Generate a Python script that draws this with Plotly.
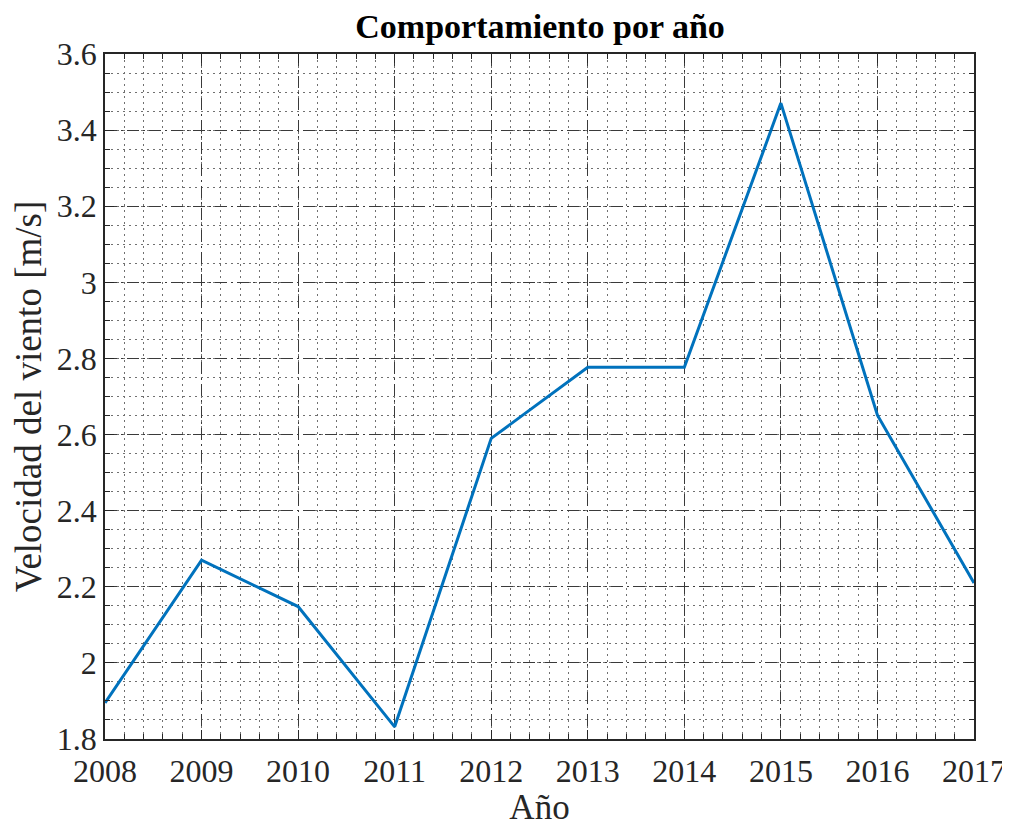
import plotly.graph_objects as go

years = [2008, 2009, 2010, 2011, 2012, 2013, 2014, 2015, 2016, 2017]
velocidad = [1.895, 2.270, 2.148, 1.832, 2.590, 2.777, 2.777, 3.471, 2.651, 2.210]
y_ticks = [1.8, 2.0, 2.2, 2.4, 2.6, 2.8, 3.0, 3.2, 3.4, 3.6]
y_labels = ["1.8", "2", "2.2", "2.4", "2.6", "2.8", "3", "3.2", "3.4", "3.6"]

FONT = "'Liberation Serif', 'Times New Roman', serif"

fig = go.Figure()
fig.add_trace(go.Scatter(x=years, y=velocidad, mode="lines",
                         line=dict(color="#0072BD", width=3)))

axis_common = dict(
    showline=True, linecolor="#262626", linewidth=1.5, mirror="allticks",
    ticks="inside", ticklen=9, tickcolor="#262626", tickwidth=1,
    showgrid=True, gridcolor="#3a3a3a", gridwidth=1, griddash="12px,4px,2px,4px",
    zeroline=False, automargin=False,
    tickfont=dict(family=FONT, size=32, color="#262626"),
)

fig.update_xaxes(
    **axis_common,
    range=[2008, 2017], tickmode="array", tickvals=years,
    ticktext=[str(y) for y in years],
    ticklabelstandoff=3,
    title=dict(text="Año", font=dict(family=FONT, size=35, color="#262626"), standoff=0),
    minor=dict(dtick=0.2, showgrid=True, gridcolor="#707070", gridwidth=1, griddash="1.5px,4.5px",
               ticks="inside", ticklen=5, tickcolor="#262626"),
)
fig.update_yaxes(
    **axis_common,
    range=[1.8, 3.6], tickmode="array", tickvals=y_ticks, ticktext=y_labels,
    title=dict(text="Velocidad del viento [m/s]", font=dict(family=FONT, size=37, color="#262626"), standoff=4),
    minor=dict(dtick=0.05, tick0=1.8, showgrid=True, gridcolor="#707070", gridwidth=1, griddash="1.5px,4.5px",
               ticks="inside", ticklen=5, tickcolor="#262626"),
)

# page body has an 8px margin, so the figure is sized/offset accordingly
fig.update_layout(
    width=1002, height=819,
    margin=dict(l=97, r=36, t=46, b=88, autoexpand=False),
    plot_bgcolor="white", paper_bgcolor="white",
    showlegend=False,
    title=dict(text="<b>Comportamiento por año</b>", x=0.531, xanchor="center",
               yref="container", y=0.993, yanchor="top",
               font=dict(family=FONT, size=34, color="black")),
)

fig.write_html("out.html")
